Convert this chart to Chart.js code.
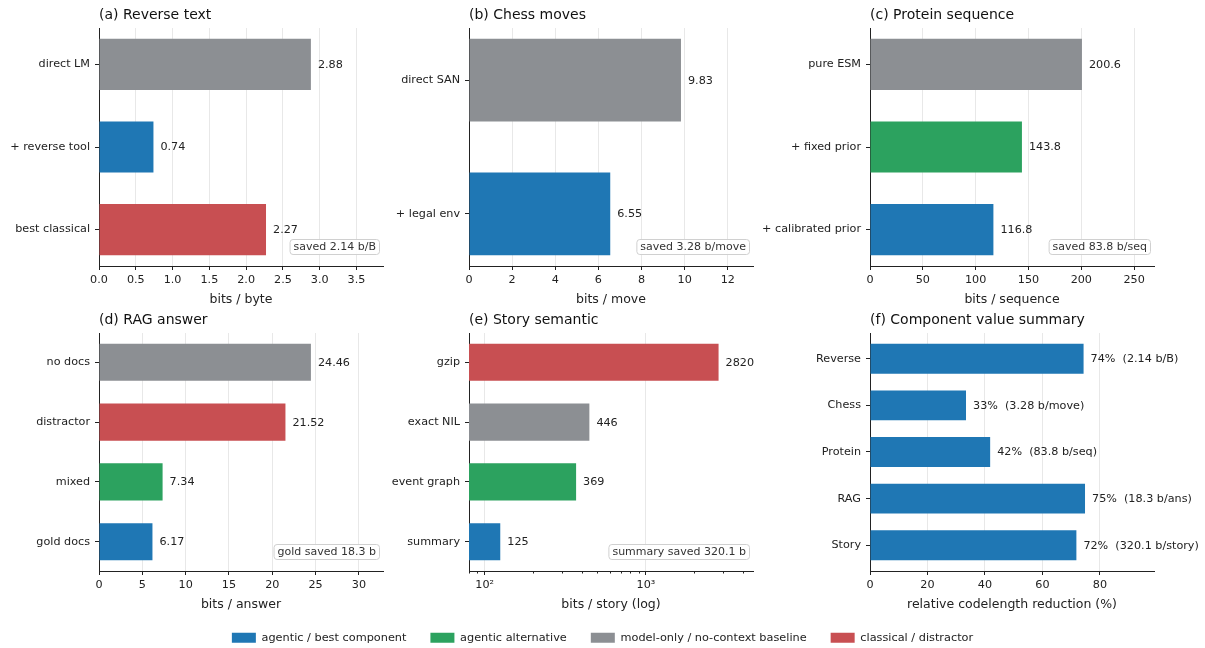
<!DOCTYPE html>
<html lang="en">

<head>
  <meta charset="UTF-8" />
  <title>Component value summary</title>
  <script src="https://cdn.jsdelivr.net/npm/chart.js@4"></script>
  <style>
    html,
    body {
      margin: 0;
      padding: 0;
      background: #fff;
    }

    body {
      position: relative;
      width: 1205px;
      height: 648px;
      overflow: hidden;
      font-family: 'DejaVu Sans', sans-serif;
    }

    .panel {
      position: absolute;
      width: 444px;
      height: 316px;
    }

    #legendBox {
      position: absolute;
      left: 0;
      top: 608px;
      width: 1205px;
      height: 100px;
    }
  </style>
</head>

<body>
  <div class="panel" style="left:-11px;top:0"><canvas id="chartA"></canvas></div>
  <div class="panel" style="left:359px;top:0"><canvas id="chartB"></canvas></div>
  <div class="panel" style="left:760px;top:0"><canvas id="chartC"></canvas></div>
  <div class="panel" style="left:-11px;top:305px"><canvas id="chartD"></canvas></div>
  <div class="panel" style="left:359px;top:305px"><canvas id="chartE"></canvas></div>
  <div class="panel" style="left:760px;top:305px"><canvas id="chartF"></canvas></div>
  <div id="legendBox"><canvas id="legendChart"></canvas></div>

  <script>
    // ---- data ----
    const revCats = ['direct LM', '+ reverse tool', 'best classical'];
    const revVals = [2.88, 0.74, 2.27];
    const revRoles = ['baseline', 'agentic', 'classical'];

    const chessCats = ['direct SAN', '+ legal env'];
    const chessVals = [9.83, 6.55];
    const chessRoles = ['baseline', 'agentic'];

    const protCats = ['pure ESM', '+ fixed prior', '+ calibrated prior'];
    const protVals = [200.6, 143.8, 116.8];
    const protRoles = ['baseline', 'alternative', 'agentic'];

    const ragCats = ['no docs', 'distractor', 'mixed', 'gold docs'];
    const ragVals = [24.46, 21.52, 7.34, 6.17];
    const ragRoles = ['baseline', 'classical', 'alternative', 'agentic'];

    const storyCats = ['gzip', 'exact NIL', 'event graph', 'summary'];
    const storyVals = [2820, 446, 369, 125];
    const storyRoles = ['classical', 'baseline', 'alternative', 'agentic'];

    const sumCats = ['Reverse', 'Chess', 'Protein', 'RAG', 'Story'];
    const sumPct = [74.3, 33.4, 41.8, 74.8, 71.8];
    const sumSaved = ['2.14 b/B', '3.28 b/move', '83.8 b/seq', '18.3 b/ans', '320.1 b/story'];

    const logTicks = [100, 1000];
    const logTickText = ['10²', '10³'];
    const logMinor = [80, 90, 200, 300, 400, 500, 600, 700, 800, 900, 2000, 3000, 4000];

    const legendLabels = ['agentic / best component', 'agentic alternative',
      'model-only / no-context baseline', 'classical / distractor'];
    const legendRoles = ['agentic', 'alternative', 'baseline', 'classical'];

    // ---- styling ----
    const palette = {
      agentic: '#1f77b4',
      alternative: '#2ca25f',
      baseline: '#8c8f93',
      classical: '#c84f52'
    };
    const ink = '#222';
    const small = 11.2;
    Chart.defaults.font.family = "'DejaVu Sans', sans-serif";
    Chart.defaults.color = ink;

    const panelDecor = {
      id: 'panelDecor',
      afterDatasetsDraw(chart, args, opts) {
        const ctx = chart.ctx;
        const meta = chart.getDatasetMeta(0);
        ctx.save();
        ctx.font = small + "px 'DejaVu Sans'";
        ctx.fillStyle = ink;
        ctx.textBaseline = 'middle';
        ctx.textAlign = 'left';
        meta.data.forEach((bar, i) => {
          ctx.fillText(opts.valueText(i), bar.x + 7, bar.y + 0.5);
        });
        ctx.restore();
      },
      afterDraw(chart, args, opts) {
        const ctx = chart.ctx;
        const ca = chart.chartArea;
        ctx.save();
        // title, left aligned to plot area
        ctx.font = "14px 'DejaVu Sans'";
        ctx.fillStyle = '#111';
        ctx.textAlign = 'left';
        ctx.textBaseline = 'alphabetic';
        ctx.fillText(opts.title, ca.left, ca.top - 9);

        // note box in the lower right corner
        if (opts.note) {
          ctx.font = "11px 'DejaVu Sans'";
          const w = ctx.measureText(opts.note).width + 7;
          const h = 15;
          const x1 = ca.right - 4 - w;
          const y1 = ca.bottom - 12 - h;
          ctx.beginPath();
          ctx.roundRect(x1 + 0.5, y1 + 0.5, w, h, 3);
          ctx.fillStyle = 'rgba(255,255,255,0.9)';
          ctx.fill();
          ctx.strokeStyle = '#d0d0d0';
          ctx.lineWidth = 1;
          ctx.stroke();
          ctx.fillStyle = '#333';
          ctx.textBaseline = 'middle';
          ctx.fillText(opts.note, x1 + 4, y1 + h / 2 + 1);
        }

        // minor ticks for the log axis
        if (opts.minor) {
          const xs = chart.scales.x;
          ctx.strokeStyle = ink;
          ctx.lineWidth = 1;
          opts.minor.forEach(v => {
            const px = Math.round(xs.getPixelForValue(v)) + 0.5;
            if (px < ca.left - 1 || px > ca.right + 1) return;
            ctx.beginPath();
            ctx.moveTo(px, ca.bottom);
            ctx.lineTo(px, ca.bottom + 2.5);
            ctx.stroke();
          });
        }
        ctx.restore();
      }
    };

    function makePanel(id, p) {
      const n = p.cats.length;
      const h = p.barPct || 0.62;
      const pad = 0.05 * (n - 1 + h);
      const xAxis = {
        type: p.log ? 'logarithmic' : 'linear',
        position: 'bottom',
        min: p.min || 0,
        max: p.max,
        afterFit: s => { s.height = 50; },
        ticks: {
          stepSize: p.step,
          includeBounds: false,
          autoSkip: false,
          maxRotation: 0,
          padding: 3,
          font: { size: small },
          color: ink,
          callback: p.tickFmt
        },
        grid: { color: '#e8e8e8', lineWidth: 1, tickLength: 4, tickColor: ink },
        border: { color: ink, width: 1 },
        title: {
          display: true,
          text: p.xlabel,
          color: ink,
          font: { size: 12.5 },
          padding: { top: 0, bottom: 9 }
        }
      };
      if (p.log) {
        xAxis.afterBuildTicks = s => { s.ticks = logTicks.map(v => ({ value: v, major: true })); };
      }

      return new Chart(document.getElementById(id), {
        type: 'bar',
        data: {
          datasets: [{
            data: p.vals.map((v, i) => ({ x: v, y: i })),
            backgroundColor: p.roles.map(r => palette[r]),
            borderWidth: 0,
            barPercentage: h,
            categoryPercentage: 1
          }]
        },
        options: {
          indexAxis: 'y',
          responsive: true,
          maintainAspectRatio: false,
          animation: false,
          layout: { padding: { top: 28, right: 50, left: 0, bottom: 0 } },
          scales: {
            x: xAxis,
            y: {
              type: 'linear',
              reverse: true,
              offset: false,
              min: -h / 2 - pad,
              max: n - 1 + h / 2 + pad,
              afterBuildTicks: s => { s.ticks = p.cats.map((c, i) => ({ value: i })); },
              afterFit: s => { s.width = 110; },
              ticks: {
                autoSkip: false,
                padding: 5,
                font: { size: small },
                color: ink,
                callback: v => p.cats[v]
              },
              grid: { offset: false, drawOnChartArea: false, tickLength: 4, tickColor: ink },
              border: { color: ink, width: 1 }
            }
          },
          plugins: {
            legend: { display: false },
            tooltip: { enabled: false },
            panelDecor: {
              title: p.title,
              note: p.note,
              minor: p.minor,
              valueText: p.valueText
            }
          }
        },
        plugins: [panelDecor]
      });
    }

    makePanel('chartA', {
      title: '(a) Reverse text', cats: revCats, vals: revVals, roles: revRoles,
      xlabel: 'bits / byte', max: 3.86, step: 0.5,
      tickFmt: v => v.toFixed(1),
      valueText: i => revVals[i].toFixed(2),
      note: 'saved 2.14 b/B'
    });

    makePanel('chartB', {
      title: '(b) Chess moves', cats: chessCats, vals: chessVals, roles: chessRoles,
      xlabel: 'bits / move', max: 13.17, step: 2,
      tickFmt: v => String(Math.round(v)),
      valueText: i => chessVals[i].toFixed(2),
      note: 'saved 3.28 b/move'
    });

    makePanel('chartC', {
      title: '(c) Protein sequence', cats: protCats, vals: protVals, roles: protRoles,
      xlabel: 'bits / sequence', max: 268.8, step: 50,
      tickFmt: v => String(Math.round(v)),
      valueText: i => protVals[i].toFixed(1),
      note: 'saved 83.8 b/seq'
    });

    makePanel('chartD', {
      title: '(d) RAG answer', cats: ragCats, vals: ragVals, roles: ragRoles,
      xlabel: 'bits / answer', max: 32.78, step: 5,
      tickFmt: v => String(Math.round(v)),
      valueText: i => ragVals[i].toFixed(2),
      note: 'gold saved 18.3 b'
    });

    makePanel('chartE', {
      title: '(e) Story semantic', cats: storyCats, vals: storyVals, roles: storyRoles,
      xlabel: 'bits / story (log)', log: true, min: 80, max: 4610,
      tickFmt: v => logTickText[logTicks.indexOf(v)] || '',
      valueText: i => storyVals[i].toFixed(0),
      note: 'summary saved 320.1 b',
      minor: logMinor
    });

    makePanel('chartF', {
      title: '(f) Component value summary', cats: sumCats, vals: sumPct,
      roles: sumCats.map(() => 'agentic'),
      xlabel: 'relative codelength reduction (%)', max: 98.8, step: 20, barPct: 0.64,
      tickFmt: v => String(Math.round(v)),
      valueText: i => Math.round(sumPct[i]) + '%  (' + sumSaved[i] + ')'
    });

    // shared legend along the bottom
    new Chart(document.getElementById('legendChart'), {
      type: 'bar',
      data: {
        labels: [],
        datasets: legendLabels.map((l, i) => ({
          label: l,
          data: [],
          backgroundColor: palette[legendRoles[i]],
          borderWidth: 0
        }))
      },
      options: {
        responsive: true,
        maintainAspectRatio: false,
        animation: false,
        layout: { padding: 0 },
        scales: { x: { display: false }, y: { display: false } },
        plugins: {
          tooltip: { enabled: false },
          legend: {
            display: true,
            position: 'top',
            onClick: null,
            labels: {
              boxWidth: 24,
              boxHeight: 10,
              padding: 24,
              color: ink,
              font: { size: 11.3 }
            }
          }
        }
      }
    });
  </script>
</body>

</html>
